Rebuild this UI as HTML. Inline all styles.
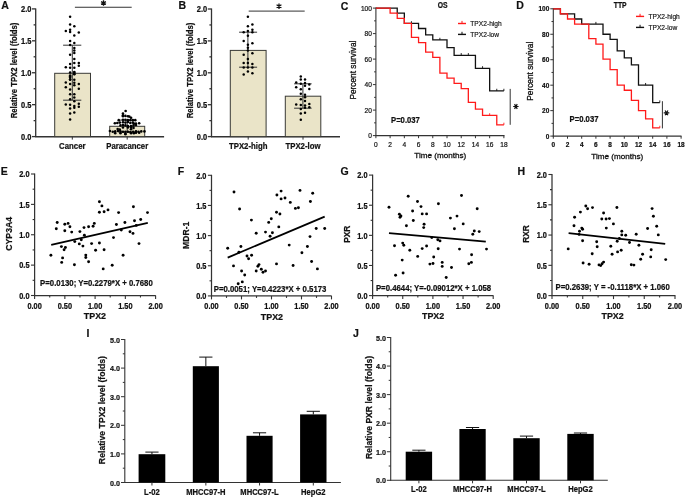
<!DOCTYPE html><html><head><meta charset="utf-8"><style>html,body{margin:0;padding:0;background:#fff;}svg{display:block;will-change:transform;}</style></head><body>
<svg width="685" height="497" viewBox="0 0 685 497" font-family='"Liberation Sans", sans-serif'>
<rect width="685" height="497" fill="#fff"/>
<text transform="translate(1.20,9.20) scale(1,1.0)" font-size="10.5" text-anchor="start" font-weight="bold" fill="#111" stroke="#111" stroke-width="0.2" >A</text>
<line x1="35.70" y1="8.40" x2="35.70" y2="137.10" stroke="#333" stroke-width="1.3"/>
<line x1="32.00" y1="136.60" x2="35.70" y2="136.60" stroke="#333" stroke-width="1.3"/>
<line x1="33.60" y1="120.64" x2="35.70" y2="120.64" stroke="#333" stroke-width="1.3"/>
<line x1="32.00" y1="104.67" x2="35.70" y2="104.67" stroke="#333" stroke-width="1.3"/>
<line x1="33.60" y1="88.71" x2="35.70" y2="88.71" stroke="#333" stroke-width="1.3"/>
<line x1="32.00" y1="72.75" x2="35.70" y2="72.75" stroke="#333" stroke-width="1.3"/>
<line x1="33.60" y1="56.79" x2="35.70" y2="56.79" stroke="#333" stroke-width="1.3"/>
<line x1="32.00" y1="40.82" x2="35.70" y2="40.82" stroke="#333" stroke-width="1.3"/>
<line x1="33.60" y1="24.86" x2="35.70" y2="24.86" stroke="#333" stroke-width="1.3"/>
<line x1="32.00" y1="8.90" x2="35.70" y2="8.90" stroke="#333" stroke-width="1.3"/>
<text transform="translate(31.40,139.95) scale(1,1.1)" font-size="7.5" text-anchor="end" font-weight="bold" fill="#111" stroke="#111" stroke-width="0.2" >0.0</text>
<text transform="translate(31.40,108.03) scale(1,1.1)" font-size="7.5" text-anchor="end" font-weight="bold" fill="#111" stroke="#111" stroke-width="0.2" >0.5</text>
<text transform="translate(31.40,76.10) scale(1,1.1)" font-size="7.5" text-anchor="end" font-weight="bold" fill="#111" stroke="#111" stroke-width="0.2" >1.0</text>
<text transform="translate(31.40,44.18) scale(1,1.1)" font-size="7.5" text-anchor="end" font-weight="bold" fill="#111" stroke="#111" stroke-width="0.2" >1.5</text>
<text transform="translate(31.40,12.25) scale(1,1.1)" font-size="7.5" text-anchor="end" font-weight="bold" fill="#111" stroke="#111" stroke-width="0.2" >2.0</text>
<line x1="35.20" y1="136.70" x2="164.10" y2="136.70" stroke="#333" stroke-width="1.6"/>
<text transform="translate(16.63,70.50) rotate(-90) scale(1,1.1)" x="0" y="0" font-size="7.7" text-anchor="middle" font-weight="bold" fill="#111" stroke="#111" stroke-width="0.2">Relative TPX2 level (folds)</text>
<rect x="54.70" y="73.30" width="35.80" height="63.30" fill="#EAE4C8" stroke="#3a3a36" stroke-width="1"/>
<rect x="109.70" y="126.30" width="35.00" height="10.30" fill="#EAE4C8" stroke="#3a3a36" stroke-width="1"/>
<line x1="72.30" y1="136.60" x2="72.30" y2="139.60" stroke="#333" stroke-width="1.0"/>
<line x1="127.20" y1="136.60" x2="127.20" y2="139.60" stroke="#333" stroke-width="1.0"/>
<text transform="translate(72.30,148.67) scale(1,1.1)" font-size="7.8" text-anchor="middle" font-weight="bold" fill="#111" stroke="#111" stroke-width="0.2" >Cancer</text>
<text transform="translate(127.20,148.67) scale(1,1.1)" font-size="7.8" text-anchor="middle" font-weight="bold" fill="#111" stroke="#111" stroke-width="0.2" >Paracancer</text>
<line x1="72.30" y1="45.20" x2="72.30" y2="100.20" stroke="#333" stroke-width="1.0"/>
<line x1="63.10" y1="45.20" x2="81.30" y2="45.20" stroke="#333" stroke-width="1.0"/>
<line x1="63.10" y1="100.20" x2="81.30" y2="100.20" stroke="#333" stroke-width="1.0"/>
<circle cx="70.10" cy="16.80" r="1.25" fill="#000"/>
<circle cx="70.10" cy="24.50" r="1.25" fill="#000"/>
<circle cx="74.30" cy="26.20" r="1.25" fill="#000"/>
<circle cx="65.80" cy="31.10" r="1.25" fill="#000"/>
<circle cx="70.10" cy="29.70" r="1.25" fill="#000"/>
<circle cx="70.10" cy="32.10" r="1.25" fill="#000"/>
<circle cx="78.80" cy="32.50" r="1.25" fill="#000"/>
<circle cx="74.30" cy="35.60" r="1.25" fill="#000"/>
<circle cx="70.10" cy="40.90" r="1.25" fill="#000"/>
<circle cx="74.30" cy="43.10" r="1.25" fill="#000"/>
<circle cx="70.10" cy="44.90" r="1.25" fill="#000"/>
<circle cx="74.30" cy="48.00" r="1.25" fill="#000"/>
<circle cx="74.30" cy="50.50" r="1.25" fill="#000"/>
<circle cx="74.30" cy="52.90" r="1.25" fill="#000"/>
<circle cx="70.10" cy="54.70" r="1.25" fill="#000"/>
<circle cx="74.30" cy="58.90" r="1.25" fill="#000"/>
<circle cx="70.10" cy="63.90" r="1.25" fill="#000"/>
<circle cx="74.30" cy="63.00" r="1.25" fill="#000"/>
<circle cx="78.80" cy="63.00" r="1.25" fill="#000"/>
<circle cx="78.80" cy="65.80" r="1.25" fill="#000"/>
<circle cx="65.80" cy="67.20" r="1.25" fill="#000"/>
<circle cx="70.10" cy="67.70" r="1.25" fill="#000"/>
<circle cx="74.30" cy="67.70" r="1.25" fill="#000"/>
<circle cx="74.30" cy="71.90" r="1.25" fill="#000"/>
<circle cx="70.10" cy="72.60" r="1.25" fill="#000"/>
<circle cx="70.10" cy="75.40" r="1.25" fill="#000"/>
<circle cx="74.30" cy="74.00" r="1.25" fill="#000"/>
<circle cx="70.10" cy="77.50" r="1.25" fill="#000"/>
<circle cx="70.10" cy="79.30" r="1.25" fill="#000"/>
<circle cx="74.30" cy="72.50" r="1.25" fill="#000"/>
<circle cx="74.30" cy="74.20" r="1.25" fill="#000"/>
<circle cx="70.10" cy="76.30" r="1.25" fill="#000"/>
<circle cx="70.10" cy="79.80" r="1.25" fill="#000"/>
<circle cx="74.30" cy="79.80" r="1.25" fill="#000"/>
<circle cx="65.80" cy="82.40" r="1.25" fill="#000"/>
<circle cx="70.10" cy="84.10" r="1.25" fill="#000"/>
<circle cx="74.30" cy="82.70" r="1.25" fill="#000"/>
<circle cx="74.30" cy="85.20" r="1.25" fill="#000"/>
<circle cx="78.80" cy="84.10" r="1.25" fill="#000"/>
<circle cx="65.80" cy="87.20" r="1.25" fill="#000"/>
<circle cx="78.80" cy="88.70" r="1.25" fill="#000"/>
<circle cx="70.10" cy="89.40" r="1.25" fill="#000"/>
<circle cx="70.10" cy="94.20" r="1.25" fill="#000"/>
<circle cx="74.30" cy="94.20" r="1.25" fill="#000"/>
<circle cx="74.30" cy="97.40" r="1.25" fill="#000"/>
<circle cx="70.10" cy="99.30" r="1.25" fill="#000"/>
<circle cx="74.30" cy="101.20" r="1.25" fill="#000"/>
<circle cx="65.80" cy="104.50" r="1.25" fill="#000"/>
<circle cx="70.10" cy="104.70" r="1.25" fill="#000"/>
<circle cx="78.80" cy="103.80" r="1.25" fill="#000"/>
<circle cx="74.30" cy="105.90" r="1.25" fill="#000"/>
<circle cx="78.80" cy="106.80" r="1.25" fill="#000"/>
<circle cx="70.10" cy="108.40" r="1.25" fill="#000"/>
<circle cx="74.30" cy="107.70" r="1.25" fill="#000"/>
<circle cx="74.30" cy="112.60" r="1.25" fill="#000"/>
<circle cx="70.10" cy="113.60" r="1.25" fill="#000"/>
<circle cx="70.10" cy="119.50" r="1.25" fill="#000"/>
<line x1="127.20" y1="120.10" x2="127.20" y2="132.10" stroke="#333" stroke-width="1.0"/>
<line x1="118.40" y1="120.10" x2="136.00" y2="120.10" stroke="#333" stroke-width="1.0"/>
<line x1="118.40" y1="132.10" x2="136.00" y2="132.10" stroke="#333" stroke-width="1.0"/>
<circle cx="125.63" cy="110.99" r="1.3" fill="#000"/>
<circle cx="122.96" cy="113.45" r="1.3" fill="#000"/>
<circle cx="122.96" cy="115.21" r="1.3" fill="#000"/>
<circle cx="122.96" cy="116.13" r="1.3" fill="#000"/>
<circle cx="125.42" cy="115.92" r="1.3" fill="#000"/>
<circle cx="127.89" cy="116.27" r="1.3" fill="#000"/>
<circle cx="129.30" cy="116.62" r="1.3" fill="#000"/>
<circle cx="131.06" cy="117.68" r="1.3" fill="#000"/>
<circle cx="118.73" cy="120.14" r="1.3" fill="#000"/>
<circle cx="122.96" cy="119.79" r="1.3" fill="#000"/>
<circle cx="125.42" cy="119.79" r="1.3" fill="#000"/>
<circle cx="127.89" cy="120.14" r="1.3" fill="#000"/>
<circle cx="130.35" cy="120.14" r="1.3" fill="#000"/>
<circle cx="132.82" cy="120.14" r="1.3" fill="#000"/>
<circle cx="135.28" cy="120.14" r="1.3" fill="#000"/>
<circle cx="114.86" cy="123.31" r="1.3" fill="#000"/>
<circle cx="117.32" cy="122.96" r="1.3" fill="#000"/>
<circle cx="119.79" cy="122.61" r="1.3" fill="#000"/>
<circle cx="122.96" cy="122.25" r="1.3" fill="#000"/>
<circle cx="125.42" cy="122.61" r="1.3" fill="#000"/>
<circle cx="127.89" cy="121.90" r="1.3" fill="#000"/>
<circle cx="130.35" cy="122.96" r="1.3" fill="#000"/>
<circle cx="132.82" cy="122.61" r="1.3" fill="#000"/>
<circle cx="133.87" cy="123.66" r="1.3" fill="#000"/>
<circle cx="135.99" cy="123.66" r="1.3" fill="#000"/>
<circle cx="139.15" cy="123.31" r="1.3" fill="#000"/>
<circle cx="120.49" cy="125.42" r="1.3" fill="#000"/>
<circle cx="122.96" cy="125.07" r="1.3" fill="#000"/>
<circle cx="125.42" cy="125.42" r="1.3" fill="#000"/>
<circle cx="127.89" cy="126.13" r="1.3" fill="#000"/>
<circle cx="131.06" cy="126.13" r="1.3" fill="#000"/>
<circle cx="133.52" cy="125.42" r="1.3" fill="#000"/>
<circle cx="135.99" cy="125.07" r="1.3" fill="#000"/>
<circle cx="122.96" cy="127.54" r="1.3" fill="#000"/>
<circle cx="127.89" cy="127.54" r="1.3" fill="#000"/>
<circle cx="131.06" cy="127.54" r="1.3" fill="#000"/>
<circle cx="133.52" cy="127.89" r="1.3" fill="#000"/>
<circle cx="117.68" cy="128.94" r="1.3" fill="#000"/>
<circle cx="119.79" cy="129.65" r="1.3" fill="#000"/>
<circle cx="131.06" cy="129.30" r="1.3" fill="#000"/>
<circle cx="109.93" cy="131.06" r="1.3" fill="#000"/>
<circle cx="112.75" cy="131.76" r="1.3" fill="#000"/>
<circle cx="115.21" cy="131.41" r="1.3" fill="#000"/>
<circle cx="118.03" cy="131.06" r="1.3" fill="#000"/>
<circle cx="120.49" cy="131.41" r="1.3" fill="#000"/>
<circle cx="122.96" cy="131.76" r="1.3" fill="#000"/>
<circle cx="125.42" cy="131.76" r="1.3" fill="#000"/>
<circle cx="127.89" cy="131.76" r="1.3" fill="#000"/>
<circle cx="130.35" cy="132.11" r="1.3" fill="#000"/>
<circle cx="133.17" cy="131.76" r="1.3" fill="#000"/>
<circle cx="135.99" cy="131.41" r="1.3" fill="#000"/>
<circle cx="138.45" cy="131.76" r="1.3" fill="#000"/>
<circle cx="141.27" cy="131.41" r="1.3" fill="#000"/>
<circle cx="144.44" cy="131.41" r="1.3" fill="#000"/>
<circle cx="115.21" cy="133.17" r="1.3" fill="#000"/>
<circle cx="120.49" cy="133.17" r="1.3" fill="#000"/>
<circle cx="125.42" cy="133.52" r="1.3" fill="#000"/>
<circle cx="131.06" cy="133.17" r="1.3" fill="#000"/>
<circle cx="133.87" cy="133.17" r="1.3" fill="#000"/>
<circle cx="135.99" cy="132.82" r="1.3" fill="#000"/>
<circle cx="139.15" cy="132.82" r="1.3" fill="#000"/>
<circle cx="125.42" cy="134.23" r="1.3" fill="#000"/>
<line x1="74.90" y1="7.25" x2="131.70" y2="7.25" stroke="#333" stroke-width="1.0"/>
<path d="M103.50,0.20 L103.50,5.80 M101.08,1.60 L105.92,4.40 M101.08,4.40 L105.92,1.60 " stroke="#111" stroke-width="1.3" fill="none"/>
<text transform="translate(178.60,9.20) scale(1,1.0)" font-size="10.5" text-anchor="start" font-weight="bold" fill="#111" stroke="#111" stroke-width="0.2" >B</text>
<line x1="211.50" y1="8.50" x2="211.50" y2="137.10" stroke="#333" stroke-width="1.3"/>
<line x1="207.80" y1="136.60" x2="211.50" y2="136.60" stroke="#333" stroke-width="1.3"/>
<line x1="209.40" y1="120.65" x2="211.50" y2="120.65" stroke="#333" stroke-width="1.3"/>
<line x1="207.80" y1="104.70" x2="211.50" y2="104.70" stroke="#333" stroke-width="1.3"/>
<line x1="209.40" y1="88.75" x2="211.50" y2="88.75" stroke="#333" stroke-width="1.3"/>
<line x1="207.80" y1="72.80" x2="211.50" y2="72.80" stroke="#333" stroke-width="1.3"/>
<line x1="209.40" y1="56.85" x2="211.50" y2="56.85" stroke="#333" stroke-width="1.3"/>
<line x1="207.80" y1="40.90" x2="211.50" y2="40.90" stroke="#333" stroke-width="1.3"/>
<line x1="209.40" y1="24.95" x2="211.50" y2="24.95" stroke="#333" stroke-width="1.3"/>
<line x1="207.80" y1="9.00" x2="211.50" y2="9.00" stroke="#333" stroke-width="1.3"/>
<text transform="translate(207.20,139.95) scale(1,1.1)" font-size="7.5" text-anchor="end" font-weight="bold" fill="#111" stroke="#111" stroke-width="0.2" >0.0</text>
<text transform="translate(207.20,108.05) scale(1,1.1)" font-size="7.5" text-anchor="end" font-weight="bold" fill="#111" stroke="#111" stroke-width="0.2" >0.5</text>
<text transform="translate(207.20,76.15) scale(1,1.1)" font-size="7.5" text-anchor="end" font-weight="bold" fill="#111" stroke="#111" stroke-width="0.2" >1.0</text>
<text transform="translate(207.20,44.25) scale(1,1.1)" font-size="7.5" text-anchor="end" font-weight="bold" fill="#111" stroke="#111" stroke-width="0.2" >1.5</text>
<text transform="translate(207.20,12.35) scale(1,1.1)" font-size="7.5" text-anchor="end" font-weight="bold" fill="#111" stroke="#111" stroke-width="0.2" >2.0</text>
<line x1="211.00" y1="136.70" x2="340.00" y2="136.70" stroke="#333" stroke-width="1.6"/>
<text transform="translate(192.63,70.50) rotate(-90) scale(1,1.1)" x="0" y="0" font-size="7.7" text-anchor="middle" font-weight="bold" fill="#111" stroke="#111" stroke-width="0.2">Relative TPX2 level (folds)</text>
<rect x="230.30" y="50.40" width="35.80" height="86.20" fill="#EAE4C8" stroke="#3a3a36" stroke-width="1"/>
<rect x="285.30" y="96.20" width="35.50" height="40.40" fill="#EAE4C8" stroke="#3a3a36" stroke-width="1"/>
<line x1="248.20" y1="136.60" x2="248.20" y2="139.60" stroke="#333" stroke-width="1.0"/>
<line x1="303.00" y1="136.60" x2="303.00" y2="139.60" stroke="#333" stroke-width="1.0"/>
<text transform="translate(248.20,148.67) scale(1,1.1)" font-size="7.8" text-anchor="middle" font-weight="bold" fill="#111" stroke="#111" stroke-width="0.2" >TPX2-high</text>
<text transform="translate(303.00,148.67) scale(1,1.1)" font-size="7.8" text-anchor="middle" font-weight="bold" fill="#111" stroke="#111" stroke-width="0.2" >TPX2-low</text>
<line x1="247.90" y1="32.20" x2="247.90" y2="67.20" stroke="#333" stroke-width="1.0"/>
<line x1="239.10" y1="32.20" x2="257.10" y2="32.20" stroke="#333" stroke-width="1.0"/>
<line x1="239.10" y1="67.20" x2="257.10" y2="67.20" stroke="#333" stroke-width="1.0"/>
<circle cx="247.90" cy="16.80" r="1.25" fill="#000"/>
<circle cx="247.90" cy="26.20" r="1.25" fill="#000"/>
<circle cx="252.40" cy="24.50" r="1.25" fill="#000"/>
<circle cx="252.40" cy="29.70" r="1.25" fill="#000"/>
<circle cx="247.90" cy="31.10" r="1.25" fill="#000"/>
<circle cx="243.70" cy="32.20" r="1.25" fill="#000"/>
<circle cx="252.40" cy="32.20" r="1.25" fill="#000"/>
<circle cx="247.90" cy="35.70" r="1.25" fill="#000"/>
<circle cx="243.70" cy="40.90" r="1.25" fill="#000"/>
<circle cx="252.40" cy="43.30" r="1.25" fill="#000"/>
<circle cx="247.90" cy="44.70" r="1.25" fill="#000"/>
<circle cx="247.90" cy="47.70" r="1.25" fill="#000"/>
<circle cx="247.90" cy="50.40" r="1.25" fill="#000"/>
<circle cx="243.70" cy="54.70" r="1.25" fill="#000"/>
<circle cx="252.40" cy="53.30" r="1.25" fill="#000"/>
<circle cx="247.90" cy="58.90" r="1.25" fill="#000"/>
<circle cx="243.70" cy="63.00" r="1.25" fill="#000"/>
<circle cx="247.90" cy="63.00" r="1.25" fill="#000"/>
<circle cx="252.40" cy="63.90" r="1.25" fill="#000"/>
<circle cx="243.70" cy="67.40" r="1.25" fill="#000"/>
<circle cx="247.90" cy="67.40" r="1.25" fill="#000"/>
<circle cx="252.40" cy="67.40" r="1.25" fill="#000"/>
<circle cx="247.90" cy="71.60" r="1.25" fill="#000"/>
<circle cx="252.40" cy="73.30" r="1.25" fill="#000"/>
<circle cx="243.70" cy="74.40" r="1.25" fill="#000"/>
<line x1="302.90" y1="83.80" x2="302.90" y2="108.20" stroke="#333" stroke-width="1.0"/>
<line x1="294.10" y1="83.80" x2="311.60" y2="83.80" stroke="#333" stroke-width="1.0"/>
<line x1="294.10" y1="108.20" x2="311.60" y2="108.20" stroke="#333" stroke-width="1.0"/>
<circle cx="300.80" cy="76.40" r="1.25" fill="#000"/>
<circle cx="300.80" cy="79.60" r="1.25" fill="#000"/>
<circle cx="305.00" cy="79.60" r="1.25" fill="#000"/>
<circle cx="296.20" cy="82.40" r="1.25" fill="#000"/>
<circle cx="300.80" cy="83.80" r="1.25" fill="#000"/>
<circle cx="305.00" cy="83.10" r="1.25" fill="#000"/>
<circle cx="305.00" cy="85.70" r="1.25" fill="#000"/>
<circle cx="309.30" cy="84.50" r="1.25" fill="#000"/>
<circle cx="296.20" cy="87.30" r="1.25" fill="#000"/>
<circle cx="300.80" cy="89.20" r="1.25" fill="#000"/>
<circle cx="309.30" cy="89.00" r="1.25" fill="#000"/>
<circle cx="300.80" cy="93.70" r="1.25" fill="#000"/>
<circle cx="305.00" cy="94.70" r="1.25" fill="#000"/>
<circle cx="305.00" cy="97.20" r="1.25" fill="#000"/>
<circle cx="300.80" cy="99.30" r="1.25" fill="#000"/>
<circle cx="305.00" cy="101.10" r="1.25" fill="#000"/>
<circle cx="296.20" cy="104.50" r="1.25" fill="#000"/>
<circle cx="300.80" cy="104.90" r="1.25" fill="#000"/>
<circle cx="305.00" cy="105.40" r="1.25" fill="#000"/>
<circle cx="309.30" cy="104.00" r="1.25" fill="#000"/>
<circle cx="305.00" cy="107.70" r="1.25" fill="#000"/>
<circle cx="309.30" cy="107.30" r="1.25" fill="#000"/>
<circle cx="300.80" cy="108.90" r="1.25" fill="#000"/>
<circle cx="300.80" cy="113.40" r="1.25" fill="#000"/>
<circle cx="305.00" cy="112.70" r="1.25" fill="#000"/>
<circle cx="300.80" cy="119.70" r="1.25" fill="#000"/>
<line x1="248.70" y1="11.10" x2="304.70" y2="11.10" stroke="#333" stroke-width="1.0"/>
<path d="M279.00,3.40 L279.00,9.00 M276.58,4.80 L281.42,7.60 M276.58,7.60 L281.42,4.80 " stroke="#111" stroke-width="1.3" fill="none"/>
<text transform="translate(340.80,9.50) scale(1,1.0)" font-size="10.5" text-anchor="start" font-weight="bold" fill="#111" stroke="#111" stroke-width="0.2" >C</text>
<line x1="375.90" y1="7.60" x2="375.90" y2="136.10" stroke="#333" stroke-width="1.1"/>
<line x1="372.90" y1="135.60" x2="375.90" y2="135.60" stroke="#333" stroke-width="1.0"/>
<text transform="translate(371.90,138.20) scale(1,1.1)" font-size="6.6" text-anchor="end" font-weight="normal" fill="#111" stroke="#111" stroke-width="0.2" >0</text>
<line x1="374.10" y1="122.85" x2="375.90" y2="122.85" stroke="#333" stroke-width="1.0"/>
<line x1="372.90" y1="110.10" x2="375.90" y2="110.10" stroke="#333" stroke-width="1.0"/>
<text transform="translate(371.90,112.70) scale(1,1.1)" font-size="6.6" text-anchor="end" font-weight="normal" fill="#111" stroke="#111" stroke-width="0.2" >20</text>
<line x1="374.10" y1="97.35" x2="375.90" y2="97.35" stroke="#333" stroke-width="1.0"/>
<line x1="372.90" y1="84.60" x2="375.90" y2="84.60" stroke="#333" stroke-width="1.0"/>
<text transform="translate(371.90,87.20) scale(1,1.1)" font-size="6.6" text-anchor="end" font-weight="normal" fill="#111" stroke="#111" stroke-width="0.2" >40</text>
<line x1="374.10" y1="71.85" x2="375.90" y2="71.85" stroke="#333" stroke-width="1.0"/>
<line x1="372.90" y1="59.10" x2="375.90" y2="59.10" stroke="#333" stroke-width="1.0"/>
<text transform="translate(371.90,61.70) scale(1,1.1)" font-size="6.6" text-anchor="end" font-weight="normal" fill="#111" stroke="#111" stroke-width="0.2" >60</text>
<line x1="374.10" y1="46.35" x2="375.90" y2="46.35" stroke="#333" stroke-width="1.0"/>
<line x1="372.90" y1="33.60" x2="375.90" y2="33.60" stroke="#333" stroke-width="1.0"/>
<text transform="translate(371.90,36.20) scale(1,1.1)" font-size="6.6" text-anchor="end" font-weight="normal" fill="#111" stroke="#111" stroke-width="0.2" >80</text>
<line x1="374.10" y1="20.85" x2="375.90" y2="20.85" stroke="#333" stroke-width="1.0"/>
<line x1="372.90" y1="8.10" x2="375.90" y2="8.10" stroke="#333" stroke-width="1.0"/>
<text transform="translate(371.90,10.70) scale(1,1.1)" font-size="6.6" text-anchor="end" font-weight="normal" fill="#111" stroke="#111" stroke-width="0.2" >100</text>
<line x1="375.40" y1="135.60" x2="504.50" y2="135.60" stroke="#333" stroke-width="1.1"/>
<line x1="375.90" y1="135.60" x2="375.90" y2="138.20" stroke="#333" stroke-width="1.0"/>
<text transform="translate(375.90,146.50) scale(1,1.1)" font-size="6.6" text-anchor="middle" font-weight="normal" fill="#111" stroke="#111" stroke-width="0.2" >0</text>
<line x1="390.12" y1="135.60" x2="390.12" y2="138.20" stroke="#333" stroke-width="1.0"/>
<text transform="translate(390.12,146.50) scale(1,1.1)" font-size="6.6" text-anchor="middle" font-weight="normal" fill="#111" stroke="#111" stroke-width="0.2" >2</text>
<line x1="404.34" y1="135.60" x2="404.34" y2="138.20" stroke="#333" stroke-width="1.0"/>
<text transform="translate(404.34,146.50) scale(1,1.1)" font-size="6.6" text-anchor="middle" font-weight="normal" fill="#111" stroke="#111" stroke-width="0.2" >4</text>
<line x1="418.56" y1="135.60" x2="418.56" y2="138.20" stroke="#333" stroke-width="1.0"/>
<text transform="translate(418.56,146.50) scale(1,1.1)" font-size="6.6" text-anchor="middle" font-weight="normal" fill="#111" stroke="#111" stroke-width="0.2" >6</text>
<line x1="432.78" y1="135.60" x2="432.78" y2="138.20" stroke="#333" stroke-width="1.0"/>
<text transform="translate(432.78,146.50) scale(1,1.1)" font-size="6.6" text-anchor="middle" font-weight="normal" fill="#111" stroke="#111" stroke-width="0.2" >8</text>
<line x1="447.00" y1="135.60" x2="447.00" y2="138.20" stroke="#333" stroke-width="1.0"/>
<text transform="translate(447.00,146.50) scale(1,1.1)" font-size="6.6" text-anchor="middle" font-weight="normal" fill="#111" stroke="#111" stroke-width="0.2" >10</text>
<line x1="461.22" y1="135.60" x2="461.22" y2="138.20" stroke="#333" stroke-width="1.0"/>
<text transform="translate(461.22,146.50) scale(1,1.1)" font-size="6.6" text-anchor="middle" font-weight="normal" fill="#111" stroke="#111" stroke-width="0.2" >12</text>
<line x1="475.44" y1="135.60" x2="475.44" y2="138.20" stroke="#333" stroke-width="1.0"/>
<text transform="translate(475.44,146.50) scale(1,1.1)" font-size="6.6" text-anchor="middle" font-weight="normal" fill="#111" stroke="#111" stroke-width="0.2" >14</text>
<line x1="489.66" y1="135.60" x2="489.66" y2="138.20" stroke="#333" stroke-width="1.0"/>
<text transform="translate(489.66,146.50) scale(1,1.1)" font-size="6.6" text-anchor="middle" font-weight="normal" fill="#111" stroke="#111" stroke-width="0.2" >16</text>
<line x1="503.88" y1="135.60" x2="503.88" y2="138.20" stroke="#333" stroke-width="1.0"/>
<text transform="translate(503.88,146.50) scale(1,1.1)" font-size="6.6" text-anchor="middle" font-weight="normal" fill="#111" stroke="#111" stroke-width="0.2" >18</text>
<text transform="translate(442.70,8.12) scale(1,1.2)" font-size="6.8" text-anchor="middle" font-weight="bold" fill="#111" stroke="#111" stroke-width="0.2" >OS</text>
<text transform="translate(356.27,70.10) rotate(-90) scale(1,1.0)" x="0" y="0" font-size="8.3" text-anchor="middle" font-weight="normal" fill="#111" stroke="#111" stroke-width="0.3">Percent survival</text>
<text transform="translate(440.20,157.90) scale(1,1.0)" font-size="8.1" text-anchor="middle" font-weight="normal" fill="#111" stroke="#111" stroke-width="0.3" >Time (months)</text>
<text transform="translate(391.00,122.93) scale(1,1.1)" font-size="7.7" text-anchor="start" font-weight="bold" fill="#111" stroke="#111" stroke-width="0.2" >P=0.037</text>
<path d="M375.90,8.10 L397.23,8.10 L397.23,13.20 L404.34,13.20 L404.34,23.40 L418.56,23.40 L418.56,28.50 L425.67,28.50 L425.67,34.88 L432.78,34.88 L432.78,39.97 L447.00,39.97 L447.00,47.62 L454.11,47.62 L454.11,55.28 L475.44,55.28 L475.44,68.41 L489.66,68.41 L489.66,90.97 L503.88,90.97" fill="none" stroke="#111" stroke-width="1.3"/>
<line x1="411.45" y1="23.40" x2="411.45" y2="21.20" stroke="#111" stroke-width="0.9"/>
<line x1="439.89" y1="39.97" x2="439.89" y2="37.77" stroke="#111" stroke-width="0.9"/>
<line x1="461.22" y1="55.28" x2="461.22" y2="53.08" stroke="#111" stroke-width="0.9"/>
<line x1="468.33" y1="55.28" x2="468.33" y2="53.08" stroke="#111" stroke-width="0.9"/>
<line x1="482.55" y1="68.41" x2="482.55" y2="66.21" stroke="#111" stroke-width="0.9"/>
<line x1="496.77" y1="90.97" x2="496.77" y2="88.77" stroke="#111" stroke-width="0.9"/>
<line x1="503.88" y1="90.97" x2="503.88" y2="88.77" stroke="#111" stroke-width="0.9"/>
<path d="M375.90,8.10 L390.12,8.10 L390.12,13.20 L397.23,13.20 L397.23,18.30 L404.34,18.30 L404.34,23.40 L411.45,23.40 L411.45,37.42 L418.56,37.42 L418.56,42.53 L425.67,42.53 L425.67,52.21 L432.78,52.21 L432.78,57.44 L439.89,57.44 L439.89,73.12 L447.00,73.12 L447.00,78.22 L454.11,78.22 L454.11,83.32 L461.22,83.32 L461.22,88.68 L468.33,88.68 L468.33,102.32 L475.44,102.32 L475.44,109.21 L482.55,109.21 L482.55,115.45 L496.77,115.45 L496.77,124.89 L503.88,124.89" fill="none" stroke="#ff1a1a" stroke-width="1.3"/>
<line x1="489.66" y1="115.45" x2="489.66" y2="113.25" stroke="#ff1a1a" stroke-width="0.9"/>
<line x1="503.88" y1="124.89" x2="503.88" y2="122.69" stroke="#ff1a1a" stroke-width="0.9"/>
<line x1="458.00" y1="23.50" x2="466.00" y2="23.50" stroke="#ff1a1a" stroke-width="1.4"/>
<line x1="462.00" y1="23.50" x2="462.00" y2="20.90" stroke="#ff1a1a" stroke-width="1.0"/>
<text transform="translate(470.30,26.12) scale(1,1.1)" font-size="6.65" text-anchor="start" font-weight="normal" fill="#111" stroke="#111" stroke-width="0.15" >TPX2-high</text>
<line x1="458.00" y1="34.40" x2="466.00" y2="34.40" stroke="#111" stroke-width="1.4"/>
<line x1="462.00" y1="34.40" x2="462.00" y2="31.80" stroke="#111" stroke-width="1.0"/>
<text transform="translate(470.30,37.02) scale(1,1.1)" font-size="6.65" text-anchor="start" font-weight="normal" fill="#111" stroke="#111" stroke-width="0.15" >TPX2-low</text>
<line x1="510.20" y1="88.90" x2="510.20" y2="124.80" stroke="#333" stroke-width="1.0"/>
<path d="M513.20,106.50 L518.60,106.50 M514.55,108.84 L517.25,104.16 M517.25,108.84 L514.55,104.16 " stroke="#111" stroke-width="1.2" fill="none"/>
<text transform="translate(516.20,9.10) scale(1,1.0)" font-size="10.5" text-anchor="start" font-weight="bold" fill="#111" stroke="#111" stroke-width="0.2" >D</text>
<line x1="553.30" y1="8.30" x2="553.30" y2="136.60" stroke="#333" stroke-width="1.1"/>
<line x1="550.30" y1="136.10" x2="553.30" y2="136.10" stroke="#333" stroke-width="1.0"/>
<text transform="translate(549.30,138.66) scale(1,1.1)" font-size="6.5" text-anchor="end" font-weight="bold" fill="#111" stroke="#111" stroke-width="0.2" >0</text>
<line x1="551.50" y1="123.37" x2="553.30" y2="123.37" stroke="#333" stroke-width="1.0"/>
<line x1="550.30" y1="110.64" x2="553.30" y2="110.64" stroke="#333" stroke-width="1.0"/>
<text transform="translate(549.30,113.20) scale(1,1.1)" font-size="6.5" text-anchor="end" font-weight="bold" fill="#111" stroke="#111" stroke-width="0.2" >20</text>
<line x1="551.50" y1="97.91" x2="553.30" y2="97.91" stroke="#333" stroke-width="1.0"/>
<line x1="550.30" y1="85.18" x2="553.30" y2="85.18" stroke="#333" stroke-width="1.0"/>
<text transform="translate(549.30,87.74) scale(1,1.1)" font-size="6.5" text-anchor="end" font-weight="bold" fill="#111" stroke="#111" stroke-width="0.2" >40</text>
<line x1="551.50" y1="72.45" x2="553.30" y2="72.45" stroke="#333" stroke-width="1.0"/>
<line x1="550.30" y1="59.72" x2="553.30" y2="59.72" stroke="#333" stroke-width="1.0"/>
<text transform="translate(549.30,62.28) scale(1,1.1)" font-size="6.5" text-anchor="end" font-weight="bold" fill="#111" stroke="#111" stroke-width="0.2" >60</text>
<line x1="551.50" y1="46.99" x2="553.30" y2="46.99" stroke="#333" stroke-width="1.0"/>
<line x1="550.30" y1="34.26" x2="553.30" y2="34.26" stroke="#333" stroke-width="1.0"/>
<text transform="translate(549.30,36.82) scale(1,1.1)" font-size="6.5" text-anchor="end" font-weight="bold" fill="#111" stroke="#111" stroke-width="0.2" >80</text>
<line x1="551.50" y1="21.53" x2="553.30" y2="21.53" stroke="#333" stroke-width="1.0"/>
<line x1="550.30" y1="8.80" x2="553.30" y2="8.80" stroke="#333" stroke-width="1.0"/>
<text transform="translate(549.30,11.36) scale(1,1.1)" font-size="6.5" text-anchor="end" font-weight="bold" fill="#111" stroke="#111" stroke-width="0.2" >100</text>
<line x1="552.80" y1="136.10" x2="681.50" y2="136.10" stroke="#333" stroke-width="1.1"/>
<line x1="553.30" y1="136.10" x2="553.30" y2="138.70" stroke="#333" stroke-width="1.0"/>
<text transform="translate(553.30,147.46) scale(1,1.1)" font-size="6.5" text-anchor="middle" font-weight="bold" fill="#111" stroke="#111" stroke-width="0.2" >0</text>
<line x1="567.50" y1="136.10" x2="567.50" y2="138.70" stroke="#333" stroke-width="1.0"/>
<text transform="translate(567.50,147.46) scale(1,1.1)" font-size="6.5" text-anchor="middle" font-weight="bold" fill="#111" stroke="#111" stroke-width="0.2" >2</text>
<line x1="581.70" y1="136.10" x2="581.70" y2="138.70" stroke="#333" stroke-width="1.0"/>
<text transform="translate(581.70,147.46) scale(1,1.1)" font-size="6.5" text-anchor="middle" font-weight="bold" fill="#111" stroke="#111" stroke-width="0.2" >4</text>
<line x1="595.90" y1="136.10" x2="595.90" y2="138.70" stroke="#333" stroke-width="1.0"/>
<text transform="translate(595.90,147.46) scale(1,1.1)" font-size="6.5" text-anchor="middle" font-weight="bold" fill="#111" stroke="#111" stroke-width="0.2" >6</text>
<line x1="610.10" y1="136.10" x2="610.10" y2="138.70" stroke="#333" stroke-width="1.0"/>
<text transform="translate(610.10,147.46) scale(1,1.1)" font-size="6.5" text-anchor="middle" font-weight="bold" fill="#111" stroke="#111" stroke-width="0.2" >8</text>
<line x1="624.30" y1="136.10" x2="624.30" y2="138.70" stroke="#333" stroke-width="1.0"/>
<text transform="translate(624.30,147.46) scale(1,1.1)" font-size="6.5" text-anchor="middle" font-weight="bold" fill="#111" stroke="#111" stroke-width="0.2" >10</text>
<line x1="638.50" y1="136.10" x2="638.50" y2="138.70" stroke="#333" stroke-width="1.0"/>
<text transform="translate(638.50,147.46) scale(1,1.1)" font-size="6.5" text-anchor="middle" font-weight="bold" fill="#111" stroke="#111" stroke-width="0.2" >12</text>
<line x1="652.70" y1="136.10" x2="652.70" y2="138.70" stroke="#333" stroke-width="1.0"/>
<text transform="translate(652.70,147.46) scale(1,1.1)" font-size="6.5" text-anchor="middle" font-weight="bold" fill="#111" stroke="#111" stroke-width="0.2" >14</text>
<line x1="666.90" y1="136.10" x2="666.90" y2="138.70" stroke="#333" stroke-width="1.0"/>
<text transform="translate(666.90,147.46) scale(1,1.1)" font-size="6.5" text-anchor="middle" font-weight="bold" fill="#111" stroke="#111" stroke-width="0.2" >16</text>
<line x1="681.10" y1="136.10" x2="681.10" y2="138.70" stroke="#333" stroke-width="1.0"/>
<text transform="translate(681.10,147.46) scale(1,1.1)" font-size="6.5" text-anchor="middle" font-weight="bold" fill="#111" stroke="#111" stroke-width="0.2" >18</text>
<text transform="translate(620.20,8.47) scale(1,1.2)" font-size="6.8" text-anchor="middle" font-weight="bold" fill="#111" stroke="#111" stroke-width="0.2" >TTP</text>
<text transform="translate(532.87,71.20) rotate(-90) scale(1,1.0)" x="0" y="0" font-size="8.3" text-anchor="middle" font-weight="normal" fill="#111" stroke="#111" stroke-width="0.3">Percent survival</text>
<text transform="translate(617.30,159.00) scale(1,1.0)" font-size="8.1" text-anchor="middle" font-weight="normal" fill="#111" stroke="#111" stroke-width="0.3" >Time (months)</text>
<text transform="translate(569.60,122.43) scale(1,1.1)" font-size="7.7" text-anchor="start" font-weight="bold" fill="#111" stroke="#111" stroke-width="0.2" >P=0.037</text>
<path d="M553.30,8.80 L560.40,8.80 L560.40,13.89 L574.60,13.89 L574.60,18.98 L581.70,18.98 L581.70,24.08 L603.00,24.08 L603.00,34.26 L610.10,34.26 L610.10,39.35 L617.20,39.35 L617.20,50.81 L624.30,50.81 L624.30,57.81 L631.40,57.81 L631.40,64.81 L638.50,64.81 L638.50,85.18 L652.70,85.18 L652.70,102.62 L659.80,102.62" fill="none" stroke="#111" stroke-width="1.3"/>
<line x1="595.90" y1="24.08" x2="595.90" y2="21.88" stroke="#111" stroke-width="0.9"/>
<line x1="645.60" y1="85.18" x2="645.60" y2="82.98" stroke="#111" stroke-width="0.9"/>
<line x1="659.80" y1="102.62" x2="659.80" y2="100.42" stroke="#111" stroke-width="0.9"/>
<path d="M553.30,8.80 L560.40,8.80 L560.40,13.89 L567.50,13.89 L567.50,18.98 L574.60,18.98 L574.60,24.08 L588.80,24.08 L588.80,38.72 L595.90,38.72 L595.90,44.06 L603.00,44.06 L603.00,59.08 L610.10,59.08 L610.10,69.65 L617.20,69.65 L617.20,85.18 L624.30,85.18 L624.30,90.27 L631.40,90.27 L631.40,100.46 L638.50,100.46 L638.50,110.64 L645.60,110.64 L645.60,118.91 L652.70,118.91 L652.70,127.95 L659.80,127.95" fill="none" stroke="#ff1a1a" stroke-width="1.3"/>
<line x1="659.80" y1="127.95" x2="659.80" y2="125.75" stroke="#ff1a1a" stroke-width="0.9"/>
<line x1="636.00" y1="16.40" x2="644.10" y2="16.40" stroke="#ff1a1a" stroke-width="1.4"/>
<line x1="640.05" y1="16.40" x2="640.05" y2="13.80" stroke="#ff1a1a" stroke-width="1.0"/>
<text transform="translate(648.40,19.02) scale(1,1.1)" font-size="6.65" text-anchor="start" font-weight="normal" fill="#111" stroke="#111" stroke-width="0.15" >TPX2-high</text>
<line x1="636.00" y1="27.40" x2="644.10" y2="27.40" stroke="#111" stroke-width="1.4"/>
<line x1="640.05" y1="27.40" x2="640.05" y2="24.80" stroke="#111" stroke-width="1.0"/>
<text transform="translate(648.40,30.02) scale(1,1.1)" font-size="6.65" text-anchor="start" font-weight="normal" fill="#111" stroke="#111" stroke-width="0.15" >TPX2-low</text>
<line x1="662.40" y1="101.20" x2="662.40" y2="128.40" stroke="#333" stroke-width="1.0"/>
<path d="M663.70,112.90 L669.30,112.90 M665.10,115.32 L667.90,110.48 M667.90,115.32 L665.10,110.48 " stroke="#111" stroke-width="1.2" fill="none"/>
<text transform="translate(0.80,174.80) scale(1,1.0)" font-size="10.5" text-anchor="start" font-weight="bold" fill="#111" stroke="#111" stroke-width="0.2" >E</text>
<line x1="34.60" y1="173.50" x2="34.60" y2="296.00" stroke="#333" stroke-width="1.25"/>
<line x1="31.00" y1="295.50" x2="34.60" y2="295.50" stroke="#333" stroke-width="1.1"/>
<text transform="translate(29.50,298.81) scale(1,1.1)" font-size="7.4" text-anchor="end" font-weight="bold" fill="#111" stroke="#111" stroke-width="0.2" >0.0</text>
<line x1="32.60" y1="280.31" x2="34.60" y2="280.31" stroke="#333" stroke-width="1.1"/>
<line x1="31.00" y1="265.12" x2="34.60" y2="265.12" stroke="#333" stroke-width="1.1"/>
<text transform="translate(29.50,268.44) scale(1,1.1)" font-size="7.4" text-anchor="end" font-weight="bold" fill="#111" stroke="#111" stroke-width="0.2" >0.5</text>
<line x1="32.60" y1="249.94" x2="34.60" y2="249.94" stroke="#333" stroke-width="1.1"/>
<line x1="31.00" y1="234.75" x2="34.60" y2="234.75" stroke="#333" stroke-width="1.1"/>
<text transform="translate(29.50,238.06) scale(1,1.1)" font-size="7.4" text-anchor="end" font-weight="bold" fill="#111" stroke="#111" stroke-width="0.2" >1.0</text>
<line x1="32.60" y1="219.56" x2="34.60" y2="219.56" stroke="#333" stroke-width="1.1"/>
<line x1="31.00" y1="204.38" x2="34.60" y2="204.38" stroke="#333" stroke-width="1.1"/>
<text transform="translate(29.50,207.69) scale(1,1.1)" font-size="7.4" text-anchor="end" font-weight="bold" fill="#111" stroke="#111" stroke-width="0.2" >1.5</text>
<line x1="32.60" y1="189.19" x2="34.60" y2="189.19" stroke="#333" stroke-width="1.1"/>
<line x1="31.00" y1="174.00" x2="34.60" y2="174.00" stroke="#333" stroke-width="1.1"/>
<text transform="translate(29.50,177.31) scale(1,1.1)" font-size="7.4" text-anchor="end" font-weight="bold" fill="#111" stroke="#111" stroke-width="0.2" >2.0</text>
<line x1="34.10" y1="295.50" x2="155.80" y2="295.50" stroke="#333" stroke-width="1.25"/>
<line x1="34.60" y1="295.50" x2="34.60" y2="299.00" stroke="#333" stroke-width="1.1"/>
<text transform="translate(34.60,308.51) scale(1,1.1)" font-size="7.4" text-anchor="middle" font-weight="bold" fill="#111" stroke="#111" stroke-width="0.2" >0.00</text>
<line x1="49.73" y1="295.50" x2="49.73" y2="297.50" stroke="#333" stroke-width="1.1"/>
<line x1="64.85" y1="295.50" x2="64.85" y2="299.00" stroke="#333" stroke-width="1.1"/>
<text transform="translate(64.85,308.51) scale(1,1.1)" font-size="7.4" text-anchor="middle" font-weight="bold" fill="#111" stroke="#111" stroke-width="0.2" >0.50</text>
<line x1="79.97" y1="295.50" x2="79.97" y2="297.50" stroke="#333" stroke-width="1.1"/>
<line x1="95.10" y1="295.50" x2="95.10" y2="299.00" stroke="#333" stroke-width="1.1"/>
<text transform="translate(95.10,308.51) scale(1,1.1)" font-size="7.4" text-anchor="middle" font-weight="bold" fill="#111" stroke="#111" stroke-width="0.2" >1.00</text>
<line x1="110.22" y1="295.50" x2="110.22" y2="297.50" stroke="#333" stroke-width="1.1"/>
<line x1="125.35" y1="295.50" x2="125.35" y2="299.00" stroke="#333" stroke-width="1.1"/>
<text transform="translate(125.35,308.51) scale(1,1.1)" font-size="7.4" text-anchor="middle" font-weight="bold" fill="#111" stroke="#111" stroke-width="0.2" >1.50</text>
<line x1="140.47" y1="295.50" x2="140.47" y2="297.50" stroke="#333" stroke-width="1.1"/>
<line x1="155.60" y1="295.50" x2="155.60" y2="299.00" stroke="#333" stroke-width="1.1"/>
<text transform="translate(155.60,308.51) scale(1,1.1)" font-size="7.4" text-anchor="middle" font-weight="bold" fill="#111" stroke="#111" stroke-width="0.2" >2.00</text>
<text transform="translate(12.10,233.80) rotate(-90) scale(1,1.1)" x="0" y="0" font-size="8.7" text-anchor="middle" font-weight="bold" fill="#111" stroke="#111" stroke-width="0.2">CYP3A4</text>
<text transform="translate(94.90,319.00) scale(1,1.05)" font-size="8.9" text-anchor="middle" font-weight="bold" fill="#111" stroke="#111" stroke-width="0.2" >TPX2</text>
<text transform="translate(40.10,286.42) scale(1,1.1)" font-size="7.8" text-anchor="start" font-weight="bold" fill="#111" stroke="#111" stroke-width="0.2" >P=0.0130; Y=0.2279*X + 0.7680</text>
<circle cx="57.20" cy="222.50" r="1.45" fill="#000"/>
<circle cx="56.30" cy="228.70" r="1.45" fill="#000"/>
<circle cx="64.80" cy="224.30" r="1.45" fill="#000"/>
<circle cx="68.10" cy="223.40" r="1.45" fill="#000"/>
<circle cx="69.90" cy="226.70" r="1.45" fill="#000"/>
<circle cx="64.80" cy="230.70" r="1.45" fill="#000"/>
<circle cx="71.70" cy="232.10" r="1.45" fill="#000"/>
<circle cx="79.90" cy="231.60" r="1.45" fill="#000"/>
<circle cx="84.00" cy="227.60" r="1.45" fill="#000"/>
<circle cx="88.60" cy="226.70" r="1.45" fill="#000"/>
<circle cx="94.30" cy="223.40" r="1.45" fill="#000"/>
<circle cx="93.10" cy="226.30" r="1.45" fill="#000"/>
<circle cx="99.40" cy="201.70" r="1.45" fill="#000"/>
<circle cx="99.40" cy="212.20" r="1.45" fill="#000"/>
<circle cx="84.40" cy="235.20" r="1.45" fill="#000"/>
<circle cx="81.30" cy="239.70" r="1.45" fill="#000"/>
<circle cx="74.80" cy="241.60" r="1.45" fill="#000"/>
<circle cx="79.30" cy="243.90" r="1.45" fill="#000"/>
<circle cx="82.90" cy="246.10" r="1.45" fill="#000"/>
<circle cx="91.60" cy="243.60" r="1.45" fill="#000"/>
<circle cx="99.40" cy="243.00" r="1.45" fill="#000"/>
<circle cx="95.60" cy="250.30" r="1.45" fill="#000"/>
<circle cx="61.40" cy="246.60" r="1.45" fill="#000"/>
<circle cx="65.40" cy="247.50" r="1.45" fill="#000"/>
<circle cx="64.10" cy="249.70" r="1.45" fill="#000"/>
<circle cx="50.90" cy="255.30" r="1.45" fill="#000"/>
<circle cx="62.60" cy="257.90" r="1.45" fill="#000"/>
<circle cx="61.70" cy="262.40" r="1.45" fill="#000"/>
<circle cx="74.40" cy="264.70" r="1.45" fill="#000"/>
<circle cx="85.80" cy="255.10" r="1.45" fill="#000"/>
<circle cx="85.80" cy="257.50" r="1.45" fill="#000"/>
<circle cx="88.60" cy="261.70" r="1.45" fill="#000"/>
<circle cx="101.90" cy="205.90" r="1.45" fill="#000"/>
<circle cx="104.10" cy="211.70" r="1.45" fill="#000"/>
<circle cx="108.00" cy="209.90" r="1.45" fill="#000"/>
<circle cx="118.60" cy="212.60" r="1.45" fill="#000"/>
<circle cx="133.40" cy="206.80" r="1.45" fill="#000"/>
<circle cx="147.50" cy="212.60" r="1.45" fill="#000"/>
<circle cx="116.40" cy="224.50" r="1.45" fill="#000"/>
<circle cx="124.90" cy="222.50" r="1.45" fill="#000"/>
<circle cx="134.50" cy="220.70" r="1.45" fill="#000"/>
<circle cx="140.70" cy="219.50" r="1.45" fill="#000"/>
<circle cx="136.30" cy="225.40" r="1.45" fill="#000"/>
<circle cx="121.30" cy="230.00" r="1.45" fill="#000"/>
<circle cx="130.00" cy="231.80" r="1.45" fill="#000"/>
<circle cx="133.00" cy="233.40" r="1.45" fill="#000"/>
<circle cx="113.50" cy="237.60" r="1.45" fill="#000"/>
<circle cx="139.00" cy="243.60" r="1.45" fill="#000"/>
<circle cx="104.10" cy="249.70" r="1.45" fill="#000"/>
<circle cx="123.10" cy="255.30" r="1.45" fill="#000"/>
<circle cx="112.20" cy="265.30" r="1.45" fill="#000"/>
<circle cx="103.20" cy="268.90" r="1.45" fill="#000"/>
<line x1="51.20" y1="244.90" x2="147.80" y2="222.90" stroke="#000" stroke-width="1.8"/>
<text transform="translate(177.80,174.80) scale(1,1.0)" font-size="10.5" text-anchor="start" font-weight="bold" fill="#111" stroke="#111" stroke-width="0.2" >F</text>
<line x1="211.50" y1="174.80" x2="211.50" y2="296.40" stroke="#333" stroke-width="1.25"/>
<line x1="207.90" y1="295.90" x2="211.50" y2="295.90" stroke="#333" stroke-width="1.1"/>
<text transform="translate(206.40,299.21) scale(1,1.1)" font-size="7.4" text-anchor="end" font-weight="bold" fill="#111" stroke="#111" stroke-width="0.2" >0.0</text>
<line x1="209.50" y1="280.82" x2="211.50" y2="280.82" stroke="#333" stroke-width="1.1"/>
<line x1="207.90" y1="265.75" x2="211.50" y2="265.75" stroke="#333" stroke-width="1.1"/>
<text transform="translate(206.40,269.06) scale(1,1.1)" font-size="7.4" text-anchor="end" font-weight="bold" fill="#111" stroke="#111" stroke-width="0.2" >0.5</text>
<line x1="209.50" y1="250.67" x2="211.50" y2="250.67" stroke="#333" stroke-width="1.1"/>
<line x1="207.90" y1="235.60" x2="211.50" y2="235.60" stroke="#333" stroke-width="1.1"/>
<text transform="translate(206.40,238.91) scale(1,1.1)" font-size="7.4" text-anchor="end" font-weight="bold" fill="#111" stroke="#111" stroke-width="0.2" >1.0</text>
<line x1="209.50" y1="220.52" x2="211.50" y2="220.52" stroke="#333" stroke-width="1.1"/>
<line x1="207.90" y1="205.45" x2="211.50" y2="205.45" stroke="#333" stroke-width="1.1"/>
<text transform="translate(206.40,208.76) scale(1,1.1)" font-size="7.4" text-anchor="end" font-weight="bold" fill="#111" stroke="#111" stroke-width="0.2" >1.5</text>
<line x1="209.50" y1="190.38" x2="211.50" y2="190.38" stroke="#333" stroke-width="1.1"/>
<line x1="207.90" y1="175.30" x2="211.50" y2="175.30" stroke="#333" stroke-width="1.1"/>
<text transform="translate(206.40,178.61) scale(1,1.1)" font-size="7.4" text-anchor="end" font-weight="bold" fill="#111" stroke="#111" stroke-width="0.2" >2.0</text>
<line x1="211.00" y1="295.90" x2="331.60" y2="295.90" stroke="#333" stroke-width="1.25"/>
<line x1="211.50" y1="295.90" x2="211.50" y2="299.40" stroke="#333" stroke-width="1.1"/>
<text transform="translate(211.50,308.51) scale(1,1.1)" font-size="7.4" text-anchor="middle" font-weight="bold" fill="#111" stroke="#111" stroke-width="0.2" >0.00</text>
<line x1="226.50" y1="295.90" x2="226.50" y2="297.90" stroke="#333" stroke-width="1.1"/>
<line x1="241.50" y1="295.90" x2="241.50" y2="299.40" stroke="#333" stroke-width="1.1"/>
<text transform="translate(241.50,308.51) scale(1,1.1)" font-size="7.4" text-anchor="middle" font-weight="bold" fill="#111" stroke="#111" stroke-width="0.2" >0.50</text>
<line x1="256.50" y1="295.90" x2="256.50" y2="297.90" stroke="#333" stroke-width="1.1"/>
<line x1="271.50" y1="295.90" x2="271.50" y2="299.40" stroke="#333" stroke-width="1.1"/>
<text transform="translate(271.50,308.51) scale(1,1.1)" font-size="7.4" text-anchor="middle" font-weight="bold" fill="#111" stroke="#111" stroke-width="0.2" >1.00</text>
<line x1="286.50" y1="295.90" x2="286.50" y2="297.90" stroke="#333" stroke-width="1.1"/>
<line x1="301.50" y1="295.90" x2="301.50" y2="299.40" stroke="#333" stroke-width="1.1"/>
<text transform="translate(301.50,308.51) scale(1,1.1)" font-size="7.4" text-anchor="middle" font-weight="bold" fill="#111" stroke="#111" stroke-width="0.2" >1.50</text>
<line x1="316.50" y1="295.90" x2="316.50" y2="297.90" stroke="#333" stroke-width="1.1"/>
<line x1="331.50" y1="295.90" x2="331.50" y2="299.40" stroke="#333" stroke-width="1.1"/>
<text transform="translate(331.50,308.51) scale(1,1.1)" font-size="7.4" text-anchor="middle" font-weight="bold" fill="#111" stroke="#111" stroke-width="0.2" >2.00</text>
<text transform="translate(188.90,235.30) rotate(-90) scale(1,1.1)" x="0" y="0" font-size="8.6" text-anchor="middle" font-weight="bold" fill="#111" stroke="#111" stroke-width="0.2">MDR-1</text>
<text transform="translate(271.90,319.60) scale(1,1.05)" font-size="8.9" text-anchor="middle" font-weight="bold" fill="#111" stroke="#111" stroke-width="0.2" >TPX2</text>
<text transform="translate(213.70,292.47) scale(1,1.1)" font-size="7.8" text-anchor="start" font-weight="bold" fill="#111" stroke="#111" stroke-width="0.2" >P=0.0051; Y=0.4223*X + 0.5173</text>
<circle cx="234.00" cy="192.00" r="1.45" fill="#000"/>
<circle cx="239.60" cy="209.00" r="1.45" fill="#000"/>
<circle cx="251.40" cy="220.10" r="1.45" fill="#000"/>
<circle cx="271.30" cy="218.70" r="1.45" fill="#000"/>
<circle cx="268.70" cy="222.40" r="1.45" fill="#000"/>
<circle cx="256.20" cy="233.30" r="1.45" fill="#000"/>
<circle cx="265.50" cy="232.10" r="1.45" fill="#000"/>
<circle cx="272.40" cy="232.80" r="1.45" fill="#000"/>
<circle cx="270.10" cy="236.30" r="1.45" fill="#000"/>
<circle cx="227.70" cy="248.30" r="1.45" fill="#000"/>
<circle cx="240.90" cy="246.50" r="1.45" fill="#000"/>
<circle cx="238.90" cy="252.30" r="1.45" fill="#000"/>
<circle cx="247.00" cy="256.00" r="1.45" fill="#000"/>
<circle cx="251.60" cy="255.30" r="1.45" fill="#000"/>
<circle cx="248.60" cy="258.80" r="1.45" fill="#000"/>
<circle cx="233.50" cy="265.90" r="1.45" fill="#000"/>
<circle cx="259.00" cy="264.60" r="1.45" fill="#000"/>
<circle cx="257.90" cy="266.20" r="1.45" fill="#000"/>
<circle cx="261.30" cy="269.20" r="1.45" fill="#000"/>
<circle cx="256.20" cy="271.00" r="1.45" fill="#000"/>
<circle cx="263.00" cy="272.20" r="1.45" fill="#000"/>
<circle cx="265.50" cy="271.00" r="1.45" fill="#000"/>
<circle cx="241.60" cy="271.00" r="1.45" fill="#000"/>
<circle cx="244.70" cy="275.00" r="1.45" fill="#000"/>
<circle cx="242.30" cy="281.90" r="1.45" fill="#000"/>
<circle cx="238.20" cy="283.80" r="1.45" fill="#000"/>
<circle cx="281.10" cy="191.10" r="1.45" fill="#000"/>
<circle cx="276.90" cy="195.00" r="1.45" fill="#000"/>
<circle cx="281.10" cy="198.90" r="1.45" fill="#000"/>
<circle cx="285.00" cy="198.00" r="1.45" fill="#000"/>
<circle cx="300.00" cy="190.40" r="1.45" fill="#000"/>
<circle cx="312.70" cy="193.20" r="1.45" fill="#000"/>
<circle cx="290.30" cy="202.40" r="1.45" fill="#000"/>
<circle cx="310.40" cy="201.50" r="1.45" fill="#000"/>
<circle cx="295.40" cy="208.40" r="1.45" fill="#000"/>
<circle cx="298.40" cy="207.70" r="1.45" fill="#000"/>
<circle cx="276.50" cy="212.30" r="1.45" fill="#000"/>
<circle cx="279.90" cy="214.00" r="1.45" fill="#000"/>
<circle cx="278.80" cy="226.90" r="1.45" fill="#000"/>
<circle cx="316.20" cy="228.50" r="1.45" fill="#000"/>
<circle cx="324.70" cy="228.50" r="1.45" fill="#000"/>
<circle cx="310.00" cy="236.60" r="1.45" fill="#000"/>
<circle cx="289.20" cy="245.10" r="1.45" fill="#000"/>
<circle cx="307.40" cy="246.50" r="1.45" fill="#000"/>
<circle cx="301.90" cy="252.80" r="1.45" fill="#000"/>
<circle cx="276.50" cy="263.90" r="1.45" fill="#000"/>
<circle cx="293.10" cy="265.50" r="1.45" fill="#000"/>
<circle cx="311.60" cy="261.50" r="1.45" fill="#000"/>
<circle cx="317.40" cy="268.90" r="1.45" fill="#000"/>
<line x1="227.70" y1="257.60" x2="324.70" y2="216.60" stroke="#000" stroke-width="1.8"/>
<text transform="translate(340.50,174.80) scale(1,1.0)" font-size="10.5" text-anchor="start" font-weight="bold" fill="#111" stroke="#111" stroke-width="0.2" >G</text>
<line x1="372.60" y1="174.60" x2="372.60" y2="296.10" stroke="#333" stroke-width="1.25"/>
<line x1="369.00" y1="295.60" x2="372.60" y2="295.60" stroke="#333" stroke-width="1.1"/>
<text transform="translate(367.50,298.91) scale(1,1.1)" font-size="7.4" text-anchor="end" font-weight="bold" fill="#111" stroke="#111" stroke-width="0.2" >0.0</text>
<line x1="370.60" y1="280.54" x2="372.60" y2="280.54" stroke="#333" stroke-width="1.1"/>
<line x1="369.00" y1="265.48" x2="372.60" y2="265.48" stroke="#333" stroke-width="1.1"/>
<text transform="translate(367.50,268.79) scale(1,1.1)" font-size="7.4" text-anchor="end" font-weight="bold" fill="#111" stroke="#111" stroke-width="0.2" >0.5</text>
<line x1="370.60" y1="250.41" x2="372.60" y2="250.41" stroke="#333" stroke-width="1.1"/>
<line x1="369.00" y1="235.35" x2="372.60" y2="235.35" stroke="#333" stroke-width="1.1"/>
<text transform="translate(367.50,238.66) scale(1,1.1)" font-size="7.4" text-anchor="end" font-weight="bold" fill="#111" stroke="#111" stroke-width="0.2" >1.0</text>
<line x1="370.60" y1="220.29" x2="372.60" y2="220.29" stroke="#333" stroke-width="1.1"/>
<line x1="369.00" y1="205.23" x2="372.60" y2="205.23" stroke="#333" stroke-width="1.1"/>
<text transform="translate(367.50,208.54) scale(1,1.1)" font-size="7.4" text-anchor="end" font-weight="bold" fill="#111" stroke="#111" stroke-width="0.2" >1.5</text>
<line x1="370.60" y1="190.16" x2="372.60" y2="190.16" stroke="#333" stroke-width="1.1"/>
<line x1="369.00" y1="175.10" x2="372.60" y2="175.10" stroke="#333" stroke-width="1.1"/>
<text transform="translate(367.50,178.41) scale(1,1.1)" font-size="7.4" text-anchor="end" font-weight="bold" fill="#111" stroke="#111" stroke-width="0.2" >2.0</text>
<line x1="372.10" y1="295.60" x2="493.40" y2="295.60" stroke="#333" stroke-width="1.25"/>
<line x1="372.60" y1="295.60" x2="372.60" y2="299.10" stroke="#333" stroke-width="1.1"/>
<text transform="translate(372.60,308.51) scale(1,1.1)" font-size="7.4" text-anchor="middle" font-weight="bold" fill="#111" stroke="#111" stroke-width="0.2" >0.00</text>
<line x1="387.68" y1="295.60" x2="387.68" y2="297.60" stroke="#333" stroke-width="1.1"/>
<line x1="402.75" y1="295.60" x2="402.75" y2="299.10" stroke="#333" stroke-width="1.1"/>
<text transform="translate(402.75,308.51) scale(1,1.1)" font-size="7.4" text-anchor="middle" font-weight="bold" fill="#111" stroke="#111" stroke-width="0.2" >0.50</text>
<line x1="417.83" y1="295.60" x2="417.83" y2="297.60" stroke="#333" stroke-width="1.1"/>
<line x1="432.90" y1="295.60" x2="432.90" y2="299.10" stroke="#333" stroke-width="1.1"/>
<text transform="translate(432.90,308.51) scale(1,1.1)" font-size="7.4" text-anchor="middle" font-weight="bold" fill="#111" stroke="#111" stroke-width="0.2" >1.00</text>
<line x1="447.98" y1="295.60" x2="447.98" y2="297.60" stroke="#333" stroke-width="1.1"/>
<line x1="463.05" y1="295.60" x2="463.05" y2="299.10" stroke="#333" stroke-width="1.1"/>
<text transform="translate(463.05,308.51) scale(1,1.1)" font-size="7.4" text-anchor="middle" font-weight="bold" fill="#111" stroke="#111" stroke-width="0.2" >1.50</text>
<line x1="478.12" y1="295.60" x2="478.12" y2="297.60" stroke="#333" stroke-width="1.1"/>
<line x1="493.20" y1="295.60" x2="493.20" y2="299.10" stroke="#333" stroke-width="1.1"/>
<text transform="translate(493.20,308.51) scale(1,1.1)" font-size="7.4" text-anchor="middle" font-weight="bold" fill="#111" stroke="#111" stroke-width="0.2" >2.00</text>
<text transform="translate(350.10,234.20) rotate(-90) scale(1,1.15)" x="0" y="0" font-size="8.4" text-anchor="middle" font-weight="bold" fill="#111" stroke="#111" stroke-width="0.2">PXR</text>
<text transform="translate(433.10,319.45) scale(1,1.05)" font-size="8.9" text-anchor="middle" font-weight="bold" fill="#111" stroke="#111" stroke-width="0.2" >TPX2</text>
<text transform="translate(375.90,291.47) scale(1,1.1)" font-size="7.8" text-anchor="start" font-weight="bold" fill="#111" stroke="#111" stroke-width="0.2" >P=0.4644; Y=-0.09012*X + 1.058</text>
<circle cx="408.20" cy="196.20" r="1.45" fill="#000"/>
<circle cx="417.50" cy="201.50" r="1.45" fill="#000"/>
<circle cx="389.00" cy="207.20" r="1.45" fill="#000"/>
<circle cx="421.00" cy="206.60" r="1.45" fill="#000"/>
<circle cx="412.60" cy="211.00" r="1.45" fill="#000"/>
<circle cx="399.40" cy="214.30" r="1.45" fill="#000"/>
<circle cx="400.90" cy="215.90" r="1.45" fill="#000"/>
<circle cx="400.00" cy="217.20" r="1.45" fill="#000"/>
<circle cx="422.20" cy="213.90" r="1.45" fill="#000"/>
<circle cx="426.60" cy="213.90" r="1.45" fill="#000"/>
<circle cx="413.30" cy="220.50" r="1.45" fill="#000"/>
<circle cx="424.10" cy="224.30" r="1.45" fill="#000"/>
<circle cx="406.40" cy="225.80" r="1.45" fill="#000"/>
<circle cx="423.70" cy="227.60" r="1.45" fill="#000"/>
<circle cx="394.50" cy="245.80" r="1.45" fill="#000"/>
<circle cx="402.70" cy="243.10" r="1.45" fill="#000"/>
<circle cx="403.80" cy="245.30" r="1.45" fill="#000"/>
<circle cx="409.80" cy="250.20" r="1.45" fill="#000"/>
<circle cx="422.20" cy="248.60" r="1.45" fill="#000"/>
<circle cx="426.60" cy="246.00" r="1.45" fill="#000"/>
<circle cx="417.70" cy="256.40" r="1.45" fill="#000"/>
<circle cx="433.70" cy="257.00" r="1.45" fill="#000"/>
<circle cx="402.20" cy="260.10" r="1.45" fill="#000"/>
<circle cx="429.90" cy="264.10" r="1.45" fill="#000"/>
<circle cx="433.00" cy="263.50" r="1.45" fill="#000"/>
<circle cx="403.10" cy="273.00" r="1.45" fill="#000"/>
<circle cx="395.60" cy="275.20" r="1.45" fill="#000"/>
<circle cx="461.50" cy="195.50" r="1.45" fill="#000"/>
<circle cx="438.40" cy="203.70" r="1.45" fill="#000"/>
<circle cx="477.20" cy="208.80" r="1.45" fill="#000"/>
<circle cx="450.40" cy="218.10" r="1.45" fill="#000"/>
<circle cx="457.00" cy="216.10" r="1.45" fill="#000"/>
<circle cx="463.20" cy="223.90" r="1.45" fill="#000"/>
<circle cx="454.40" cy="228.70" r="1.45" fill="#000"/>
<circle cx="474.30" cy="231.00" r="1.45" fill="#000"/>
<circle cx="472.80" cy="234.30" r="1.45" fill="#000"/>
<circle cx="479.20" cy="231.60" r="1.45" fill="#000"/>
<circle cx="431.80" cy="237.60" r="1.45" fill="#000"/>
<circle cx="437.80" cy="239.80" r="1.45" fill="#000"/>
<circle cx="440.00" cy="240.90" r="1.45" fill="#000"/>
<circle cx="438.20" cy="248.70" r="1.45" fill="#000"/>
<circle cx="459.50" cy="249.10" r="1.45" fill="#000"/>
<circle cx="486.50" cy="249.10" r="1.45" fill="#000"/>
<circle cx="471.60" cy="254.70" r="1.45" fill="#000"/>
<circle cx="442.20" cy="262.40" r="1.45" fill="#000"/>
<circle cx="442.20" cy="266.40" r="1.45" fill="#000"/>
<circle cx="451.50" cy="267.50" r="1.45" fill="#000"/>
<circle cx="468.80" cy="263.70" r="1.45" fill="#000"/>
<circle cx="471.40" cy="262.40" r="1.45" fill="#000"/>
<circle cx="446.20" cy="277.50" r="1.45" fill="#000"/>
<line x1="389.00" y1="233.10" x2="485.80" y2="241.60" stroke="#000" stroke-width="1.8"/>
<text transform="translate(517.40,174.80) scale(1,1.0)" font-size="10.5" text-anchor="start" font-weight="bold" fill="#111" stroke="#111" stroke-width="0.2" >H</text>
<line x1="552.00" y1="174.00" x2="552.00" y2="296.10" stroke="#333" stroke-width="1.25"/>
<line x1="548.40" y1="295.60" x2="552.00" y2="295.60" stroke="#333" stroke-width="1.1"/>
<text transform="translate(546.90,298.91) scale(1,1.1)" font-size="7.4" text-anchor="end" font-weight="bold" fill="#111" stroke="#111" stroke-width="0.2" >0.0</text>
<line x1="550.00" y1="280.46" x2="552.00" y2="280.46" stroke="#333" stroke-width="1.1"/>
<line x1="548.40" y1="265.33" x2="552.00" y2="265.33" stroke="#333" stroke-width="1.1"/>
<text transform="translate(546.90,268.64) scale(1,1.1)" font-size="7.4" text-anchor="end" font-weight="bold" fill="#111" stroke="#111" stroke-width="0.2" >0.5</text>
<line x1="550.00" y1="250.19" x2="552.00" y2="250.19" stroke="#333" stroke-width="1.1"/>
<line x1="548.40" y1="235.05" x2="552.00" y2="235.05" stroke="#333" stroke-width="1.1"/>
<text transform="translate(546.90,238.36) scale(1,1.1)" font-size="7.4" text-anchor="end" font-weight="bold" fill="#111" stroke="#111" stroke-width="0.2" >1.0</text>
<line x1="550.00" y1="219.91" x2="552.00" y2="219.91" stroke="#333" stroke-width="1.1"/>
<line x1="548.40" y1="204.78" x2="552.00" y2="204.78" stroke="#333" stroke-width="1.1"/>
<text transform="translate(546.90,208.09) scale(1,1.1)" font-size="7.4" text-anchor="end" font-weight="bold" fill="#111" stroke="#111" stroke-width="0.2" >1.5</text>
<line x1="550.00" y1="189.64" x2="552.00" y2="189.64" stroke="#333" stroke-width="1.1"/>
<line x1="548.40" y1="174.50" x2="552.00" y2="174.50" stroke="#333" stroke-width="1.1"/>
<text transform="translate(546.90,177.81) scale(1,1.1)" font-size="7.4" text-anchor="end" font-weight="bold" fill="#111" stroke="#111" stroke-width="0.2" >2.0</text>
<line x1="551.50" y1="295.60" x2="675.40" y2="295.60" stroke="#333" stroke-width="1.25"/>
<line x1="552.00" y1="295.60" x2="552.00" y2="299.10" stroke="#333" stroke-width="1.1"/>
<text transform="translate(552.00,308.51) scale(1,1.1)" font-size="7.4" text-anchor="middle" font-weight="bold" fill="#111" stroke="#111" stroke-width="0.2" >0.00</text>
<line x1="567.38" y1="295.60" x2="567.38" y2="297.60" stroke="#333" stroke-width="1.1"/>
<line x1="582.75" y1="295.60" x2="582.75" y2="299.10" stroke="#333" stroke-width="1.1"/>
<text transform="translate(582.75,308.51) scale(1,1.1)" font-size="7.4" text-anchor="middle" font-weight="bold" fill="#111" stroke="#111" stroke-width="0.2" >0.50</text>
<line x1="598.12" y1="295.60" x2="598.12" y2="297.60" stroke="#333" stroke-width="1.1"/>
<line x1="613.50" y1="295.60" x2="613.50" y2="299.10" stroke="#333" stroke-width="1.1"/>
<text transform="translate(613.50,308.51) scale(1,1.1)" font-size="7.4" text-anchor="middle" font-weight="bold" fill="#111" stroke="#111" stroke-width="0.2" >1.00</text>
<line x1="628.88" y1="295.60" x2="628.88" y2="297.60" stroke="#333" stroke-width="1.1"/>
<line x1="644.25" y1="295.60" x2="644.25" y2="299.10" stroke="#333" stroke-width="1.1"/>
<text transform="translate(644.25,308.51) scale(1,1.1)" font-size="7.4" text-anchor="middle" font-weight="bold" fill="#111" stroke="#111" stroke-width="0.2" >1.50</text>
<line x1="659.62" y1="295.60" x2="659.62" y2="297.60" stroke="#333" stroke-width="1.1"/>
<line x1="675.00" y1="295.60" x2="675.00" y2="299.10" stroke="#333" stroke-width="1.1"/>
<text transform="translate(675.00,308.51) scale(1,1.1)" font-size="7.4" text-anchor="middle" font-weight="bold" fill="#111" stroke="#111" stroke-width="0.2" >2.00</text>
<text transform="translate(529.30,234.00) rotate(-90) scale(1,1.15)" x="0" y="0" font-size="8.4" text-anchor="middle" font-weight="bold" fill="#111" stroke="#111" stroke-width="0.2">RXR</text>
<text transform="translate(612.60,319.00) scale(1,1.05)" font-size="8.9" text-anchor="middle" font-weight="bold" fill="#111" stroke="#111" stroke-width="0.2" >TPX2</text>
<text transform="translate(555.50,289.77) scale(1,1.1)" font-size="7.8" text-anchor="start" font-weight="bold" fill="#111" stroke="#111" stroke-width="0.2" >P=0.2639; Y = -0.1118*X + 1.060</text>
<circle cx="585.80" cy="206.00" r="1.45" fill="#000"/>
<circle cx="587.60" cy="208.70" r="1.45" fill="#000"/>
<circle cx="592.50" cy="207.60" r="1.45" fill="#000"/>
<circle cx="580.40" cy="212.10" r="1.45" fill="#000"/>
<circle cx="603.60" cy="213.00" r="1.45" fill="#000"/>
<circle cx="574.60" cy="217.20" r="1.45" fill="#000"/>
<circle cx="601.80" cy="219.00" r="1.45" fill="#000"/>
<circle cx="606.10" cy="219.00" r="1.45" fill="#000"/>
<circle cx="609.40" cy="218.60" r="1.45" fill="#000"/>
<circle cx="613.40" cy="223.90" r="1.45" fill="#000"/>
<circle cx="574.00" cy="225.70" r="1.45" fill="#000"/>
<circle cx="581.80" cy="228.10" r="1.45" fill="#000"/>
<circle cx="582.60" cy="229.30" r="1.45" fill="#000"/>
<circle cx="606.30" cy="228.10" r="1.45" fill="#000"/>
<circle cx="579.50" cy="231.30" r="1.45" fill="#000"/>
<circle cx="579.10" cy="234.40" r="1.45" fill="#000"/>
<circle cx="582.60" cy="240.80" r="1.45" fill="#000"/>
<circle cx="596.70" cy="241.70" r="1.45" fill="#000"/>
<circle cx="597.20" cy="246.70" r="1.45" fill="#000"/>
<circle cx="610.80" cy="246.20" r="1.45" fill="#000"/>
<circle cx="568.20" cy="248.90" r="1.45" fill="#000"/>
<circle cx="592.20" cy="253.80" r="1.45" fill="#000"/>
<circle cx="612.10" cy="254.30" r="1.45" fill="#000"/>
<circle cx="583.10" cy="263.00" r="1.45" fill="#000"/>
<circle cx="589.10" cy="264.30" r="1.45" fill="#000"/>
<circle cx="599.00" cy="264.90" r="1.45" fill="#000"/>
<circle cx="600.70" cy="265.60" r="1.45" fill="#000"/>
<circle cx="602.10" cy="263.80" r="1.45" fill="#000"/>
<circle cx="603.60" cy="262.10" r="1.45" fill="#000"/>
<circle cx="616.90" cy="207.50" r="1.45" fill="#000"/>
<circle cx="652.10" cy="208.60" r="1.45" fill="#000"/>
<circle cx="653.40" cy="216.20" r="1.45" fill="#000"/>
<circle cx="621.80" cy="231.20" r="1.45" fill="#000"/>
<circle cx="621.80" cy="234.90" r="1.45" fill="#000"/>
<circle cx="625.70" cy="235.20" r="1.45" fill="#000"/>
<circle cx="636.20" cy="234.30" r="1.45" fill="#000"/>
<circle cx="647.60" cy="228.50" r="1.45" fill="#000"/>
<circle cx="656.70" cy="226.20" r="1.45" fill="#000"/>
<circle cx="658.30" cy="234.90" r="1.45" fill="#000"/>
<circle cx="617.20" cy="241.20" r="1.45" fill="#000"/>
<circle cx="619.40" cy="238.50" r="1.45" fill="#000"/>
<circle cx="629.50" cy="242.50" r="1.45" fill="#000"/>
<circle cx="638.90" cy="245.20" r="1.45" fill="#000"/>
<circle cx="617.60" cy="251.90" r="1.45" fill="#000"/>
<circle cx="621.20" cy="250.20" r="1.45" fill="#000"/>
<circle cx="642.60" cy="254.20" r="1.45" fill="#000"/>
<circle cx="651.20" cy="249.70" r="1.45" fill="#000"/>
<circle cx="650.70" cy="256.90" r="1.45" fill="#000"/>
<circle cx="640.70" cy="259.30" r="1.45" fill="#000"/>
<circle cx="665.70" cy="259.60" r="1.45" fill="#000"/>
<circle cx="631.30" cy="264.70" r="1.45" fill="#000"/>
<circle cx="633.90" cy="265.10" r="1.45" fill="#000"/>
<line x1="568.60" y1="233.10" x2="665.20" y2="243.80" stroke="#000" stroke-width="1.8"/>
<text transform="translate(86.40,336.80) scale(1,1.0)" font-size="10.5" text-anchor="start" font-weight="bold" fill="#111" stroke="#111" stroke-width="0.2" >I</text>
<line x1="124.80" y1="339.00" x2="124.80" y2="483.00" stroke="#333" stroke-width="1.1"/>
<line x1="121.00" y1="482.50" x2="124.80" y2="482.50" stroke="#333" stroke-width="1.0"/>
<text transform="translate(120.00,485.64) scale(1,1.1)" font-size="7.2" text-anchor="end" font-weight="bold" fill="#111" stroke="#111" stroke-width="0.2" >0.0</text>
<line x1="122.80" y1="468.20" x2="124.80" y2="468.20" stroke="#333" stroke-width="1.0"/>
<line x1="121.00" y1="453.90" x2="124.80" y2="453.90" stroke="#333" stroke-width="1.0"/>
<text transform="translate(120.00,457.04) scale(1,1.1)" font-size="7.2" text-anchor="end" font-weight="bold" fill="#111" stroke="#111" stroke-width="0.2" >1.0</text>
<line x1="122.80" y1="439.60" x2="124.80" y2="439.60" stroke="#333" stroke-width="1.0"/>
<line x1="121.00" y1="425.30" x2="124.80" y2="425.30" stroke="#333" stroke-width="1.0"/>
<text transform="translate(120.00,428.44) scale(1,1.1)" font-size="7.2" text-anchor="end" font-weight="bold" fill="#111" stroke="#111" stroke-width="0.2" >2.0</text>
<line x1="122.80" y1="411.00" x2="124.80" y2="411.00" stroke="#333" stroke-width="1.0"/>
<line x1="121.00" y1="396.70" x2="124.80" y2="396.70" stroke="#333" stroke-width="1.0"/>
<text transform="translate(120.00,399.84) scale(1,1.1)" font-size="7.2" text-anchor="end" font-weight="bold" fill="#111" stroke="#111" stroke-width="0.2" >3.0</text>
<line x1="122.80" y1="382.40" x2="124.80" y2="382.40" stroke="#333" stroke-width="1.0"/>
<line x1="121.00" y1="368.10" x2="124.80" y2="368.10" stroke="#333" stroke-width="1.0"/>
<text transform="translate(120.00,371.24) scale(1,1.1)" font-size="7.2" text-anchor="end" font-weight="bold" fill="#111" stroke="#111" stroke-width="0.2" >4.0</text>
<line x1="122.80" y1="353.80" x2="124.80" y2="353.80" stroke="#333" stroke-width="1.0"/>
<line x1="121.00" y1="339.50" x2="124.80" y2="339.50" stroke="#333" stroke-width="1.0"/>
<text transform="translate(120.00,342.64) scale(1,1.1)" font-size="7.2" text-anchor="end" font-weight="bold" fill="#111" stroke="#111" stroke-width="0.2" >5.0</text>
<line x1="124.30" y1="482.50" x2="340.90" y2="482.50" stroke="#333" stroke-width="1.1"/>
<text transform="translate(104.90,410.10) rotate(-90) scale(1,1.1)" x="0" y="0" font-size="8.7" text-anchor="middle" font-weight="bold" fill="#111" stroke="#111" stroke-width="0.2">Relative TPX2 level (folds)</text>
<line x1="151.95" y1="452.10" x2="151.95" y2="454.20" stroke="#111" stroke-width="1.0"/>
<line x1="145.35" y1="452.10" x2="158.55" y2="452.10" stroke="#111" stroke-width="1.0"/>
<rect x="138.60" y="454.20" width="26.70" height="28.30" fill="#000"/>
<line x1="151.95" y1="482.50" x2="151.95" y2="485.50" stroke="#333" stroke-width="1.0"/>
<line x1="205.85" y1="357.10" x2="205.85" y2="366.20" stroke="#111" stroke-width="1.0"/>
<line x1="199.25" y1="357.10" x2="212.45" y2="357.10" stroke="#111" stroke-width="1.0"/>
<rect x="192.80" y="366.20" width="26.10" height="116.30" fill="#000"/>
<line x1="205.85" y1="482.50" x2="205.85" y2="485.50" stroke="#333" stroke-width="1.0"/>
<line x1="259.55" y1="432.80" x2="259.55" y2="435.80" stroke="#111" stroke-width="1.0"/>
<line x1="252.95" y1="432.80" x2="266.15" y2="432.80" stroke="#111" stroke-width="1.0"/>
<rect x="246.50" y="435.80" width="26.10" height="46.70" fill="#000"/>
<line x1="259.55" y1="482.50" x2="259.55" y2="485.50" stroke="#333" stroke-width="1.0"/>
<line x1="313.30" y1="411.30" x2="313.30" y2="414.40" stroke="#111" stroke-width="1.0"/>
<line x1="306.70" y1="411.30" x2="319.90" y2="411.30" stroke="#111" stroke-width="1.0"/>
<rect x="300.10" y="414.40" width="26.40" height="68.10" fill="#000"/>
<line x1="313.30" y1="482.50" x2="313.30" y2="485.50" stroke="#333" stroke-width="1.0"/>
<text transform="translate(151.90,494.79) scale(1,1.1)" font-size="7.6" text-anchor="middle" font-weight="bold" fill="#111" stroke="#111" stroke-width="0.2" >L-02</text>
<text transform="translate(205.80,494.79) scale(1,1.1)" font-size="7.6" text-anchor="middle" font-weight="bold" fill="#111" stroke="#111" stroke-width="0.2" >MHCC97-H</text>
<text transform="translate(259.50,494.79) scale(1,1.1)" font-size="7.6" text-anchor="middle" font-weight="bold" fill="#111" stroke="#111" stroke-width="0.2" >MHCC97-L</text>
<text transform="translate(313.30,494.79) scale(1,1.1)" font-size="7.6" text-anchor="middle" font-weight="bold" fill="#111" stroke="#111" stroke-width="0.2" >HepG2</text>
<text transform="translate(353.00,336.60) scale(1,1.0)" font-size="10.5" text-anchor="start" font-weight="bold" fill="#111" stroke="#111" stroke-width="0.2" >J</text>
<line x1="390.70" y1="337.00" x2="390.70" y2="480.80" stroke="#333" stroke-width="1.1"/>
<line x1="386.90" y1="480.30" x2="390.70" y2="480.30" stroke="#333" stroke-width="1.0"/>
<text transform="translate(385.90,483.44) scale(1,1.1)" font-size="7.2" text-anchor="end" font-weight="bold" fill="#111" stroke="#111" stroke-width="0.2" >0.0</text>
<line x1="388.70" y1="466.02" x2="390.70" y2="466.02" stroke="#333" stroke-width="1.0"/>
<line x1="386.90" y1="451.74" x2="390.70" y2="451.74" stroke="#333" stroke-width="1.0"/>
<text transform="translate(385.90,454.88) scale(1,1.1)" font-size="7.2" text-anchor="end" font-weight="bold" fill="#111" stroke="#111" stroke-width="0.2" >1.0</text>
<line x1="388.70" y1="437.46" x2="390.70" y2="437.46" stroke="#333" stroke-width="1.0"/>
<line x1="386.90" y1="423.18" x2="390.70" y2="423.18" stroke="#333" stroke-width="1.0"/>
<text transform="translate(385.90,426.32) scale(1,1.1)" font-size="7.2" text-anchor="end" font-weight="bold" fill="#111" stroke="#111" stroke-width="0.2" >2.0</text>
<line x1="388.70" y1="408.90" x2="390.70" y2="408.90" stroke="#333" stroke-width="1.0"/>
<line x1="386.90" y1="394.62" x2="390.70" y2="394.62" stroke="#333" stroke-width="1.0"/>
<text transform="translate(385.90,397.76) scale(1,1.1)" font-size="7.2" text-anchor="end" font-weight="bold" fill="#111" stroke="#111" stroke-width="0.2" >3.0</text>
<line x1="388.70" y1="380.34" x2="390.70" y2="380.34" stroke="#333" stroke-width="1.0"/>
<line x1="386.90" y1="366.06" x2="390.70" y2="366.06" stroke="#333" stroke-width="1.0"/>
<text transform="translate(385.90,369.20) scale(1,1.1)" font-size="7.2" text-anchor="end" font-weight="bold" fill="#111" stroke="#111" stroke-width="0.2" >4.0</text>
<line x1="388.70" y1="351.78" x2="390.70" y2="351.78" stroke="#333" stroke-width="1.0"/>
<line x1="386.90" y1="337.50" x2="390.70" y2="337.50" stroke="#333" stroke-width="1.0"/>
<text transform="translate(385.90,340.64) scale(1,1.1)" font-size="7.2" text-anchor="end" font-weight="bold" fill="#111" stroke="#111" stroke-width="0.2" >5.0</text>
<line x1="390.20" y1="480.30" x2="607.80" y2="480.30" stroke="#333" stroke-width="1.1"/>
<text transform="translate(371.90,407.40) rotate(-90) scale(1,1.1)" x="0" y="0" font-size="8.6" text-anchor="middle" font-weight="bold" fill="#111" stroke="#111" stroke-width="0.2">Relative PXR level (folds)</text>
<line x1="418.90" y1="450.20" x2="418.90" y2="451.70" stroke="#111" stroke-width="1.0"/>
<line x1="412.30" y1="450.20" x2="425.50" y2="450.20" stroke="#111" stroke-width="1.0"/>
<rect x="405.70" y="451.70" width="26.40" height="28.60" fill="#000"/>
<line x1="418.90" y1="480.30" x2="418.90" y2="483.30" stroke="#333" stroke-width="1.0"/>
<line x1="472.55" y1="427.50" x2="472.55" y2="429.00" stroke="#111" stroke-width="1.0"/>
<line x1="465.95" y1="427.50" x2="479.15" y2="427.50" stroke="#111" stroke-width="1.0"/>
<rect x="459.40" y="429.00" width="26.30" height="51.30" fill="#000"/>
<line x1="472.55" y1="480.30" x2="472.55" y2="483.30" stroke="#333" stroke-width="1.0"/>
<line x1="526.50" y1="436.10" x2="526.50" y2="438.20" stroke="#111" stroke-width="1.0"/>
<line x1="519.90" y1="436.10" x2="533.10" y2="436.10" stroke="#111" stroke-width="1.0"/>
<rect x="513.30" y="438.20" width="26.40" height="42.10" fill="#000"/>
<line x1="526.50" y1="480.30" x2="526.50" y2="483.30" stroke="#333" stroke-width="1.0"/>
<line x1="580.50" y1="433.00" x2="580.50" y2="433.90" stroke="#111" stroke-width="1.0"/>
<line x1="573.90" y1="433.00" x2="587.10" y2="433.00" stroke="#111" stroke-width="1.0"/>
<rect x="567.30" y="433.90" width="26.40" height="46.40" fill="#000"/>
<line x1="580.50" y1="480.30" x2="580.50" y2="483.30" stroke="#333" stroke-width="1.0"/>
<text transform="translate(418.90,492.39) scale(1,1.1)" font-size="7.6" text-anchor="middle" font-weight="bold" fill="#111" stroke="#111" stroke-width="0.2" >L-02</text>
<text transform="translate(472.50,492.39) scale(1,1.1)" font-size="7.6" text-anchor="middle" font-weight="bold" fill="#111" stroke="#111" stroke-width="0.2" >MHCC97-H</text>
<text transform="translate(526.50,492.39) scale(1,1.1)" font-size="7.6" text-anchor="middle" font-weight="bold" fill="#111" stroke="#111" stroke-width="0.2" >MHCC97-L</text>
<text transform="translate(580.50,492.39) scale(1,1.1)" font-size="7.6" text-anchor="middle" font-weight="bold" fill="#111" stroke="#111" stroke-width="0.2" >HepG2</text>
</svg></body></html>
